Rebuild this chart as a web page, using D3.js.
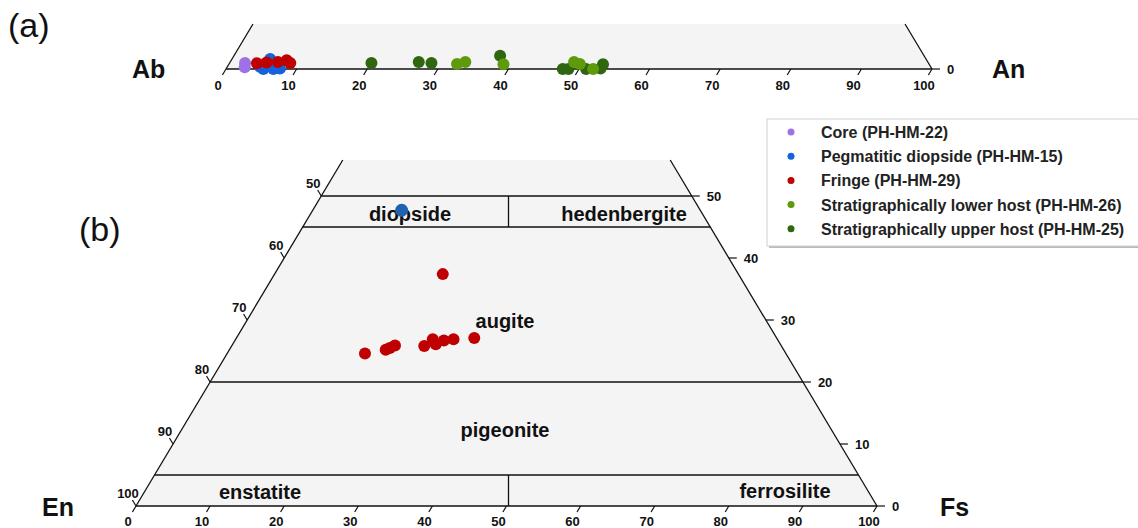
<!DOCTYPE html>
<html>
<head>
<meta charset="utf-8">
<script src="https://cdn.jsdelivr.net/npm/d3@7/dist/d3.min.js"></script>
<style>
body { margin: 0; background: #fff; }
text { font-family: "Liberation Sans", Arial, sans-serif; }
</style>
</head>
<body>
<svg width="1138" height="528"></svg>
<script>
// series names + colours (legend order)
var seriesNames = ["Core (PH-HM-22)", "Pegmatitic diopside (PH-HM-15)", "Fringe (PH-HM-29)",
    "Stratigraphically lower host (PH-HM-26)", "Stratigraphically upper host (PH-HM-25)"];
var seriesColors = ["#9e72e6", "#1562dc", "#c00000", "#5e9a0c", "#2f6610"];

// (a) feldspar: An and Or (mol %)
var coreAn = [2.2, 2.5];
var coreOr = [1.0, 0.3];
var pegAn = [4.6, 5.3, 6.7, 7.6, 5.4];
var pegOr = [0.4, 0.0, 0.0, 0.1, 1.7];
var fringeAn = [3.9, 5.2, 6.75, 7.85, 8.6];
var fringeOr = [0.97, 1.1, 1.2, 1.5, 1.0];
var lowerAn = [32.3, 33.3, 38.9, 48.7, 49.7, 52.0];
var lowerOr = [0.85, 1.2, 0.8, 1.2, 0.85, 0.0];
var upperAn = [20.1, 26.7, 28.6, 37.7, 47.7, 48.5, 51.0, 53.0, 53.0];
var upperOr = [1.0, 1.2, 1.0, 2.25, 0.0, 0.0, 0.0, 0.1, 0.8];

// (b) pyroxene: Wo and Fs (mol %)
var pegWo = [47.7];
var pegFs = [12.0];
var fringeWo = [37.4, 24.6, 25.2, 25.9, 25.5, 25.8, 26.9, 26.1, 26.7, 26.9, 27.1];
var fringeFs = [22.7, 18.6, 21.1, 22.0, 21.5, 26.0, 26.6, 27.4, 28.2, 29.4, 32.1];

var ticks = [0, 10, 20, 30, 40, 50, 60, 70, 80, 90, 100];
var sideTicks = [0, 10, 20, 30, 40, 50];

// pyroxene fields: boundaries in Wo, labels
var woLines = [5, 20, 45, 50];
var fieldNames = ["diopside", "hedenbergite", "augite", "pigeonite", "enstatite", "ferrosilite"];

var svg = d3.select('svg');

function panel(x0, y0, L, H) {
    var sx = d3.scaleLinear().domain([0, 100]).range([x0, x0 + L]);
    var sy = d3.scaleLinear().domain([0, 100]).range([y0, y0 - H]);
    // top = apex component, right = right-corner component
    var p = function (top, right) { return [sx(right + top / 2), sy(top)]; };
    return { sx: sx, sy: sy, p: p };
}

var A = panel(226, 69, 706, 589);
var B = panel(136, 506, 741, 620);

var len = Math.hypot(0.5, 620 / 741);
var ux = 0.5 / len, uy = (620 / 741) / len;

function frame(P, topMax) {
    var pts = [P.p(0, 0), P.p(0, 100), P.p(topMax, 100 - topMax), P.p(topMax, 0)];
    svg.append('polygon').attr('points', pts.map(function (d) { return d.join(','); }).join(' '))
        .attr('fill', '#f4f4f4').attr('stroke', 'none');
    svg.append('line').attr('x1', pts[0][0]).attr('y1', pts[0][1]).attr('x2', pts[1][0]).attr('y2', pts[1][1])
        .attr('stroke', '#111').attr('stroke-width', 1.4);
    svg.append('line').attr('x1', pts[0][0]).attr('y1', pts[0][1]).attr('x2', pts[3][0]).attr('y2', pts[3][1])
        .attr('stroke', '#111').attr('stroke-width', 1.3);
    svg.append('line').attr('x1', pts[1][0]).attr('y1', pts[1][1]).attr('x2', pts[2][0]).attr('y2', pts[2][1])
        .attr('stroke', '#111').attr('stroke-width', 1.3);
}

function bottomTicks(P, dy) {
    ticks.forEach(function (t) {
        var q = P.p(0, t);
        svg.append('line').attr('x1', q[0]).attr('y1', q[1]).attr('x2', q[0] - ux * 7).attr('y2', q[1] + uy * 7)
            .attr('stroke', '#111').attr('stroke-width', 1.2);
        svg.append('text').attr('x', q[0] - 8).attr('y', q[1] + dy).attr('text-anchor', 'middle')
            .attr('font-size', 13).attr('font-weight', 'bold').attr('fill', '#111').text(t);
    });
}

function rightTick(P, t) {
    var q = P.p(t, 100 - t);
    svg.append('line').attr('x1', q[0]).attr('y1', q[1]).attr('x2', q[0] + 8).attr('y2', q[1])
        .attr('stroke', '#111').attr('stroke-width', 1.2);
    svg.append('text').attr('x', q[0] + 15).attr('y', q[1] + 4.5)
        .attr('font-size', 13).attr('font-weight', 'bold').attr('fill', '#111').text(t);
}

function dots(P, tops, rights, color, r) {
    svg.append('g').selectAll('circle').data(tops).join('circle')
        .attr('cx', function (d, i) { return P.p(d, rights[i])[0]; })
        .attr('cy', function (d, i) { return P.p(d, rights[i])[1]; })
        .attr('r', r).attr('fill', color);
}

function bigLabel(x, y, s, size, weight) {
    svg.append('text').attr('x', x).attr('y', y).attr('font-size', size).attr('font-weight', weight)
        .attr('fill', '#111').text(s);
}

// ---- (a) ----
frame(A, 45 / 5.89);
bottomTicks(A, 21);
rightTick(A, 0);
dots(A, coreOr, coreAn, seriesColors[0], 6);
dots(A, pegOr, pegAn, seriesColors[1], 6);
dots(A, fringeOr, fringeAn, seriesColors[2], 6);
dots(A, upperOr, upperAn, seriesColors[4], 6);
dots(A, lowerOr, lowerAn, seriesColors[3], 6);
bigLabel(8, 37, "(a)", 34, 'normal');
bigLabel(132, 78, "Ab", 25, 'bold');
bigLabel(992, 78, "An", 25, 'bold');

// ---- (b) ----
frame(B, 346 / 6.2);
woLines.forEach(function (w) {
    var a = B.p(w, 0), b = B.p(w, 100 - w);
    svg.append('line').attr('x1', a[0]).attr('y1', a[1]).attr('x2', b[0]).attr('y2', b[1])
        .attr('stroke', '#111').attr('stroke-width', 1.3);
});
// En = Fs dividers
[[0, 5], [45, 50]].forEach(function (r) {
    var a = B.p(r[0], (100 - r[0]) / 2), b = B.p(r[1], (100 - r[1]) / 2);
    svg.append('line').attr('x1', a[0] + 2).attr('y1', a[1]).attr('x2', b[0] + 2).attr('y2', b[1])
        .attr('stroke', '#111').attr('stroke-width', 1.3);
});
bottomTicks(B, 19.5);
sideTicks.forEach(function (t) { rightTick(B, t); });
// left side: En values
sideTicks.forEach(function (w) {
    var q = B.p(w, 0);
    svg.append('line').attr('x1', q[0]).attr('y1', q[1]).attr('x2', q[0] - ux * 7).attr('y2', q[1] - uy * 7)
        .attr('stroke', '#111').attr('stroke-width', 1.2);
    svg.append('text').attr('x', q[0] - 8).attr('y', q[1] - 8.5).attr('text-anchor', 'middle')
        .attr('font-size', 13).attr('font-weight', 'bold').attr('fill', '#111').text(100 - w);
});

var fieldPos = [[410, 221], [624, 221], [505, 328], [505, 437], [260, 499], [785, 498]];
fieldNames.forEach(function (s, i) {
    svg.append('text').attr('x', fieldPos[i][0]).attr('y', fieldPos[i][1]).attr('text-anchor', 'middle')
        .attr('font-size', 20).attr('font-weight', 'bold').attr('fill', '#111').text(s);
});

dots(B, fringeWo, fringeFs, seriesColors[2], 6);
dots(B, pegWo, pegFs, "#1f62b0", 6.5);

bigLabel(79, 241, "(b)", 34, 'normal');
bigLabel(42, 516, "En", 25, 'bold');
bigLabel(940, 516, "Fs", 25, 'bold');

// ---- legend ----
var lg = svg.append('g');
lg.append('rect').attr('x', 769).attr('y', 121).attr('width', 400).attr('height', 127).attr('fill', '#bbb');
lg.append('rect').attr('x', 767).attr('y', 119).attr('width', 400).attr('height', 127)
    .attr('fill', '#fff').attr('stroke', '#d0d0d0');
seriesNames.forEach(function (s, i) {
    var y = 132 + i * 24.2;
    lg.append('circle').attr('cx', 791).attr('cy', y).attr('r', 3.5).attr('fill', seriesColors[i]);
    lg.append('text').attr('x', 821).attr('y', y + 6).attr('font-size', 16).attr('font-weight', 'bold')
        .attr('fill', '#222').text(s);
});
</script>
</body>
</html>
